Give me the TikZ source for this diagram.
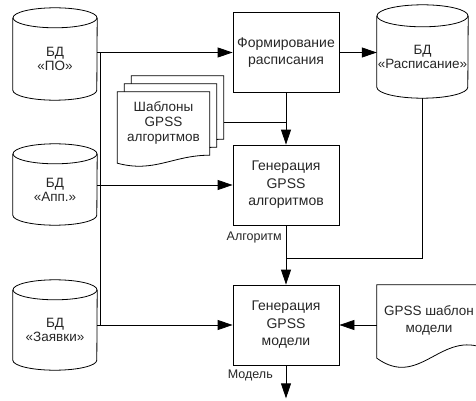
\documentclass[tikz,border=0pt]{standalone}
\usepackage{fontspec}
\setmainfont{Liberation Sans}
\usetikzlibrary{arrows.meta,positioning,calc}
\tikzset{
LINE/.style={draw=black, line width=0.8pt},
FLOW/.style={LINE, -{Triangle[length=15pt,width=10pt]}},
BOX/.style={LINE, rectangle, minimum width=106pt, minimum height=80pt, inner sep=0pt, align=center, text=black!85, font=\fontsize{14}{17.5}\selectfont},
DB/.style={rectangle, minimum width=#1, inner sep=0pt},
DB/.default=84pt,
DBTEXT/.style={align=center, inner sep=0pt, yshift=-5pt, text=black!85, font=\fontsize{13.5}{14}\selectfont},
DOC/.style={rectangle, minimum width=#1, minimum height=71pt, inner sep=0pt},
DOC/.default=92pt,
DOCTEXT/.style={align=center, inner sep=0pt, text=black!85, font=\fontsize{13.5}{15}\selectfont},
LBL/.style={inner sep=1pt, text=black!85, font=\fontsize{12.5}{14}\selectfont},
}
% cylinder outline round a DB node: name, x radius, y radius
\newcommand\dbcyl[3]{%
  \path[LINE] ([yshift=-#3]#1.north west) -- ([yshift=#3]#1.south west)
    arc[start angle=180, end angle=360, x radius=#2, y radius=#3]
    -- ([yshift=-#3]#1.north east);
  \path[LINE] ([yshift=-#3]#1.north) ellipse [x radius=#2, y radius=#3];
}
% page with a wavy foot round a DOC node: name, rise, bend, up, down
\newcommand\docpage[5]{%
  \path[LINE, fill=white] (#1.south west) -- (#1.north west) -- (#1.north east)
    -- ([yshift=#2]#1.south east) .. controls +(-#3,#4) and +(#3,-#5) .. (#1.south west) -- cycle;
}

\begin{document}
\begin{tikzpicture}[x=1pt, y=-1pt]
\useasboundingbox (0,0) rectangle (476,401);
\clip (0,0) rectangle (476,401);
% data bases
\node[DB, minimum height=92pt, label={[DBTEXT]center:{БД\\«ПО»}}] (dbpo) at (55,54) {};
\node[DB, minimum height=81pt, label={[DBTEXT]center:{БД\\«Апп.»}}] (dbapp) at (55,184.5) {};
\node[DB, minimum height=90pt, label={[DBTEXT]center:{БД\\«Заявки»}}] (dbreq) at (55,325) {};
\node[DB=91pt, minimum height=93pt, label={[DBTEXT]center:{БД\\«Расписание»}}] (dbsched) at (422.5,51.5) {};
\dbcyl{dbpo}{42pt}{10pt}
\dbcyl{dbapp}{42pt}{10pt}
\dbcyl{dbreq}{42pt}{10pt}
\dbcyl{dbsched}{45.5pt}{11pt}
% process boxes
\node[BOX] (form) at (286,52.5) {Формирование\\расписания};
\node[BOX] (gena) at (286,185) {Генерация\\GPSS\\алгоритмов};
\node[BOX] (genm) at (286,325) {Генерация\\GPSS\\модели};
% documents
\node[DOC] (tplc) at (177.5,111.5) {};
\docpage{tplc}{8pt}{37pt}{0pt}{10pt}
\node[DOC] (tplb) at (170.5,119.5) {};
\docpage{tplb}{8pt}{37pt}{0pt}{10pt}
\node[DOC] (tpla) at (163.5,127.5) {};
\docpage{tpla}{8pt}{37pt}{0pt}{10pt}
\node[DOCTEXT] (tpltext) at ([yshift=5pt]tpla.center) {Шаблоны\\GPSS\\алгоритмов};
\node[DOC=104pt, minimum height=73pt] (gdoc) at (429,321.5) {};
\docpage{gdoc}{11pt}{41.6pt}{14pt}{30pt}
\node[DOCTEXT, font=\fontsize{13.5}{17}\selectfont] (gdoctext) at ([yshift=1.5pt]gdoc.center) {GPSS шаблон\\модели};
% connectors
\draw[FLOW] (dbpo.east |- form.west) -- (form.west);
\draw[FLOW] (dbapp.east |- gena.west) -- (gena.west);
\draw[FLOW] (dbreq.east |- genm.west) -- (genm.west);
\coordinate (bustop) at ($(dbpo.east |- form.west)+(3pt,0)$);
\coordinate (busend) at ($(dbreq.east |- genm.west)+(3pt,0)$);
\draw[LINE] (bustop) -- (busend);
\draw[FLOW] (form.east) -- (dbsched.west |- form.east);
\draw[FLOW] (form.south) -- (gena.north);
\draw[LINE] (tplc.east |- tpltext) -- (form.south |- tpltext);
\coordinate (merge) at ($(gena.south)!0.55!(genm.north)$);
\draw[LINE] (dbsched.south) |- (merge);
\draw[FLOW] (gena.south) -- (genm.north);
\draw[FLOW] (gdoc.west |- genm.east) -- (genm.east);
\coordinate (result) at ([yshift=-33pt]genm.south);
\draw[FLOW] (genm.south) -- (result);
\node[LBL, anchor=east] (alg) at ([xshift=-3pt,yshift=-12pt]gena.south) {Алгоритм};
\node[LBL, anchor=east] (mdl) at ([xshift=-12pt,yshift=-10pt]genm.south) {Модель};
\end{tikzpicture}
\end{document}
